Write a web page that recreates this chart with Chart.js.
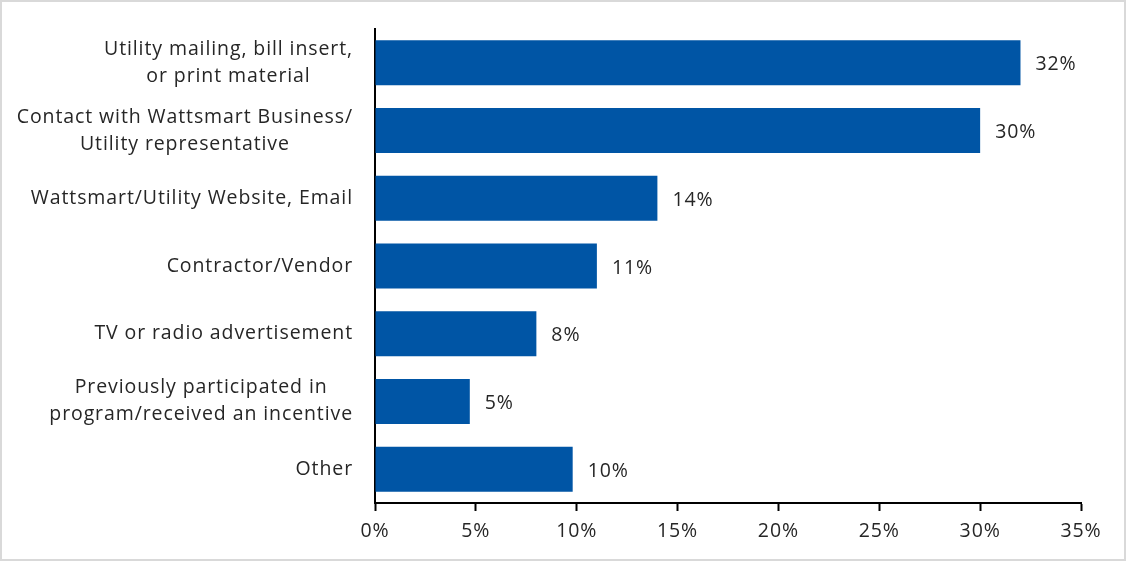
<!DOCTYPE html>
<html>
<head>
<meta charset="utf-8">
<script src="https://cdn.jsdelivr.net/npm/chart.js@4.4.1/dist/chart.umd.min.js"></script>
<style>
  html, body { margin: 0; padding: 0; background: #fff; }
  #wrap { width: 1129px; height: 562px; }
</style>
</head>
<body>
<div id="wrap"><canvas id="myChart" width="1129" height="562"></canvas></div>
<script>
/**
 *    how customers heard about the program - horizontal bars
 */

const sources = [
  ['Utility mailing, bill insert,', 'or print material'],
  ['Contact with Wattsmart Business/', 'Utility representative'],
  ['Wattsmart/Utility Website, Email'],
  ['Contractor/Vendor'],
  ['TV or radio advertisement'],
  ['Previously participated in', 'program/received an incentive'],
  ['Other']
];
const shares = [32, 30, 14, 11, 8, 4.7, 9.8];
const tickValues = [0, 5, 10, 15, 20, 25, 30, 35];

const FONT = '"Open Sans", "Noto Sans", sans-serif';
const TEXT = '#262626';
const SPACING = '0.9px';

// category names, right-aligned as a block, each line centered in it
const categoryLabels = {
  id: 'categoryLabels',
  afterDraw(chart) {
    const c = chart.ctx;
    const y = chart.scales.y;
    const right = y.right - 22;
    const lineH = 27;
    c.save();
    c.letterSpacing = SPACING;
    c.font = '19.5px ' + FONT;
    c.fillStyle = TEXT;
    c.textAlign = 'center';
    c.textBaseline = 'middle';
    sources.forEach((lines, i) => {
      const w = Math.max(...lines.map(l => c.measureText(l).width));
      const cx = right - w / 2;
      const cy = y.getPixelForValue(i);
      lines.forEach((l, j) => {
        c.fillText(l, cx, cy + (j - (lines.length - 1) / 2) * lineH);
      });
    });
    c.restore();
  }
};

// percent labels at the end of each bar
const valueLabels = {
  id: 'valueLabels',
  afterDatasetsDraw(chart) {
    const c = chart.ctx;
    const meta = chart.getDatasetMeta(0);
    c.save();
    c.letterSpacing = SPACING;
    c.font = '19.5px ' + FONT;
    c.fillStyle = TEXT;
    c.textAlign = 'left';
    c.textBaseline = 'middle';
    meta.data.forEach((bar, i) => {
      c.fillText(Math.round(shares[i]) + '%', bar.x + 15, bar.y + 2);
    });
    c.restore();
  }
};

// thin grey frame round the whole chart; also widens the tick text a bit
const frame = {
  id: 'frame',
  beforeDraw(chart) {
    const c = chart.ctx;
    c.save();
    c.strokeStyle = '#d9d9d9';
    c.lineWidth = 2;
    c.strokeRect(1, 1, 1124, 559);
    c.restore();
    c.letterSpacing = SPACING;
  }
};

const ctx = document.getElementById('myChart').getContext('2d');
const myChart = new Chart(ctx, {
  type: 'bar',
  data: {
    labels: sources.map(s => s.join(' ')),
    datasets: [{
      data: shares,
      backgroundColor: '#0055A5',
      borderWidth: 0,
      barPercentage: 0.665,
      categoryPercentage: 1
    }]
  },
  options: {
    indexAxis: 'y',
    responsive: false,
    animation: false,
    layout: { padding: { top: 29, right: 48, bottom: 0, left: 0 } },
    plugins: {
      legend: { display: false },
      tooltip: { enabled: false }
    },
    scales: {
      x: {
        min: 0,
        max: 35,
        afterBuildTicks(axis) {
          axis.ticks = tickValues.map(v => ({ value: v }));
        },
        afterFit(axis) { axis.height = 59; },
        grid: {
          drawOnChartArea: false,
          drawTicks: true,
          tickLength: 8,
          tickWidth: 2,
          color: '#000'
        },
        border: { color: '#000', width: 2 },
        ticks: {
          padding: 9,
          color: TEXT,
          font: { family: FONT, size: 19.5 },
          callback: v => v + '%'
        }
      },
      y: {
        afterFit(axis) { axis.width = 375; },
        grid: { display: false, drawTicks: false },
        border: { color: '#000', width: 2 },
        ticks: { display: false }
      }
    }
  },
  plugins: [frame, categoryLabels, valueLabels]
});
</script>
</body>
</html>
